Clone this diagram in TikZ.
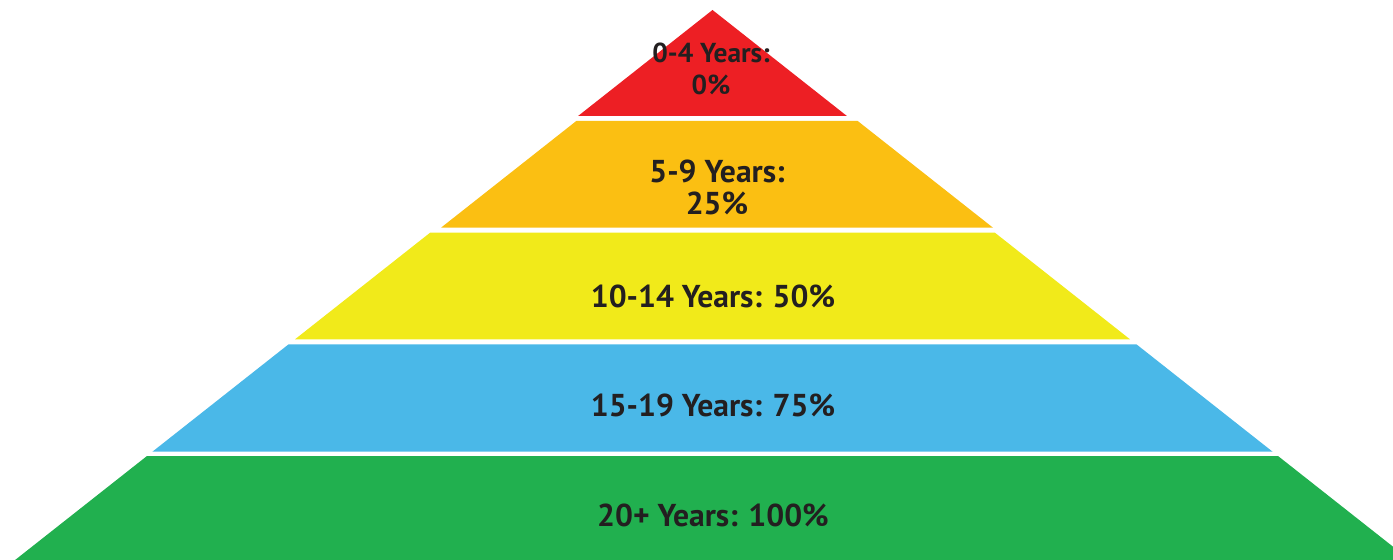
\documentclass[tikz,border=0pt]{standalone}
\usepackage{fontspec}
\setmainfont{PT Sans}
\usepackage{tikz}

\definecolor{ageRed}{HTML}{ED1F24}
\definecolor{ageOrange}{HTML}{FBBF12}
\definecolor{ageYellow}{HTML}{F1EA1A}
\definecolor{ageBlue}{HTML}{4AB8E8}
\definecolor{ageGreen}{HTML}{21B04F}
\definecolor{ageText}{HTML}{231F20}

\begin{document}
\begin{tikzpicture}[x=0.02cm, y=-0.02cm,
        level/.style={text=ageText, font=\fontsize{18}{18.6}\selectfont\bfseries, align=center, inner sep=0pt},
        small level/.style={level, font=\fontsize{15.6}{18.2}\selectfont\bfseries}]
            \useasboundingbox (0,0) rectangle (1393,560);
            \clip (0,0) rectangle (1393,560);

            \fill[ageRed] (712.5,10) -- (846.9,116) -- (578.1,116) -- cycle;
            \fill[ageOrange] (576.3,121) -- (857.7,121) -- (993,227.7) -- (441,227.7) -- cycle;
            \fill[ageYellow] (430.1,232.7) -- (994.9,232.7) -- (1130,339.3) -- (295,339.3) -- cycle;
            \fill[ageBlue] (288.6,344.3) -- (1136.4,344.3) -- (1272.6,451.7) -- (152.4,451.7) -- cycle;
            \fill[ageGreen] (147,456) -- (1278,456) -- (1409.9,560) -- (15.1,560) -- cycle;

            \node[small level] (L_0_4) at (711,68.5) {0-4 Years:\\0\%};
            \node[level] (L_5_9) at (717,187.5) {5-9 Years:\\25\%};
            \node[level] (L_10_14) at (713,296) {10-14 Years: 50\%};
            \node[level] (L_15_19) at (713,405) {15-19 Years: 75\%};
            \node[level] (L_20) at (713,515) {20+ Years: 100\%};
        \end{tikzpicture}
\end{document}
